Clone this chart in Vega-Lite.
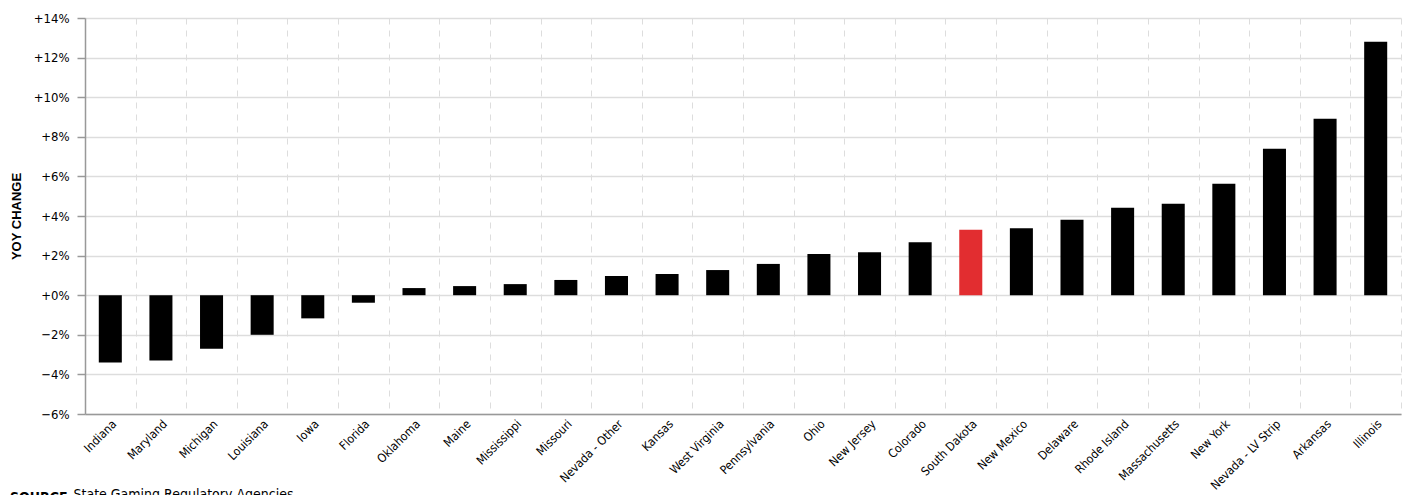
{
  "$schema": "https://vega.github.io/schema/vega-lite/v6.json",
  "autosize": {"type": "none"},
  "width": 1316,
  "height": 396,
  "padding": {"left": 85, "top": 18, "right": 3, "bottom": 81},
  "background": "white",
  "config": {
    "view": {"stroke": null},
    "font": "DejaVu Sans Condensed, Liberation Sans"
  },
  "title": {
    "text": "SOURCE",
    "orient": "bottom",
    "anchor": "start",
    "frame": "group",
    "font": "DejaVu Sans Condensed, Liberation Sans",
    "fontSize": 14,
    "fontWeight": "bold",
    "color": "#000",
    "dx": -75,
    "offset": -10
  },
  "data": {
    "values": [
      {"state": "Indiana", "change": -3.4, "highlight": "no"},
      {"state": "Maryland", "change": -3.3, "highlight": "no"},
      {"state": "Michigan", "change": -2.7, "highlight": "no"},
      {"state": "Louisiana", "change": -2.0, "highlight": "no"},
      {"state": "Iowa", "change": -1.17, "highlight": "no"},
      {"state": "Florida", "change": -0.38, "highlight": "no"},
      {"state": "Oklahoma", "change": 0.36, "highlight": "no"},
      {"state": "Maine", "change": 0.46, "highlight": "no"},
      {"state": "Mississippi", "change": 0.56, "highlight": "no"},
      {"state": "Missouri", "change": 0.77, "highlight": "no"},
      {"state": "Nevada - Other", "change": 0.97, "highlight": "no"},
      {"state": "Kansas", "change": 1.07, "highlight": "no"},
      {"state": "West Virginia", "change": 1.27, "highlight": "no"},
      {"state": "Pennsylvania", "change": 1.58, "highlight": "no"},
      {"state": "Ohio", "change": 2.08, "highlight": "no"},
      {"state": "New Jersey", "change": 2.17, "highlight": "no"},
      {"state": "Colorado", "change": 2.68, "highlight": "no"},
      {"state": "South Dakota", "change": 3.3, "highlight": "yes"},
      {"state": "New Mexico", "change": 3.38, "highlight": "no"},
      {"state": "Delaware", "change": 3.81, "highlight": "no"},
      {"state": "Rhode Island", "change": 4.42, "highlight": "no"},
      {"state": "Massachusetts", "change": 4.62, "highlight": "no"},
      {"state": "New York", "change": 5.63, "highlight": "no"},
      {"state": "Nevada - LV Strip", "change": 7.4, "highlight": "no"},
      {"state": "Arkansas", "change": 8.91, "highlight": "no"},
      {"state": "Illinois", "change": 12.8, "highlight": "no"}
    ]
  },
  "mark": {"type": "bar", "width": {"band": 0.455}},
  "encoding": {
    "x": {
      "field": "state",
      "type": "nominal",
      "sort": null,
      "scale": {"padding": 0},
      "axis": {
        "title": "State Gaming Regulatory Agencies",
        "titleFont": "DejaVu Sans Condensed, Liberation Sans",
        "titleFontSize": 14,
        "titleFontWeight": "normal",
        "titleColor": "#000",
        "titleAnchor": "start",
        "titleAlign": "left",
        "titleBaseline": "alphabetic",
        "titleX": -12,
        "titleY": 84,
        "tickBand": "extent",
        "grid": true,
        "gridColor": "#dddddd",
        "gridDash": [6, 6],
        "gridWidth": 1,
        "ticks": false,
        "domain": true,
        "domainColor": "#999999",
        "domainWidth": 1.5,
        "labelAngle": -45,
        "labelAlign": "right",
        "labelBaseline": "top",
        "labelPadding": 4,
        "labelFont": "DejaVu Sans Condensed, Liberation Sans",
        "labelFontSize": 12,
        "labelColor": "#000",
        "labelOverlap": false
      }
    },
    "y": {
      "field": "change",
      "type": "quantitative",
      "scale": {"domain": [-6, 14], "nice": false, "zero": false},
      "axis": {
        "title": "YOY CHANGE",
        "titleFont": "Liberation Sans",
        "titleFontSize": 13,
        "titleFontWeight": "bold",
        "titleColor": "#000",
        "titlePadding": 10,
        "values": [-6, -4, -2, 0, 2, 4, 6, 8, 10, 12, 14],
        "labelExpr": "(datum.value > 0 ? '+' : (datum.value < 0 ? '\u2212' : '+')) + abs(datum.value) + '%'",
        "labelFont": "DejaVu Sans Condensed, Liberation Sans",
        "labelFontSize": 13,
        "labelColor": "#000",
        "labelPadding": 8,
        "tickSize": 8,
        "tickColor": "#999999",
        "tickWidth": 1.5,
        "domainColor": "#999999",
        "domainWidth": 1.5,
        "gridColor": "#dddddd",
        "gridWidth": 1.5
      }
    },
    "color": {
      "field": "highlight",
      "type": "nominal",
      "scale": {"domain": ["no", "yes"], "range": ["#000000", "#e22d30"]},
      "legend": null
    }
  }
}
